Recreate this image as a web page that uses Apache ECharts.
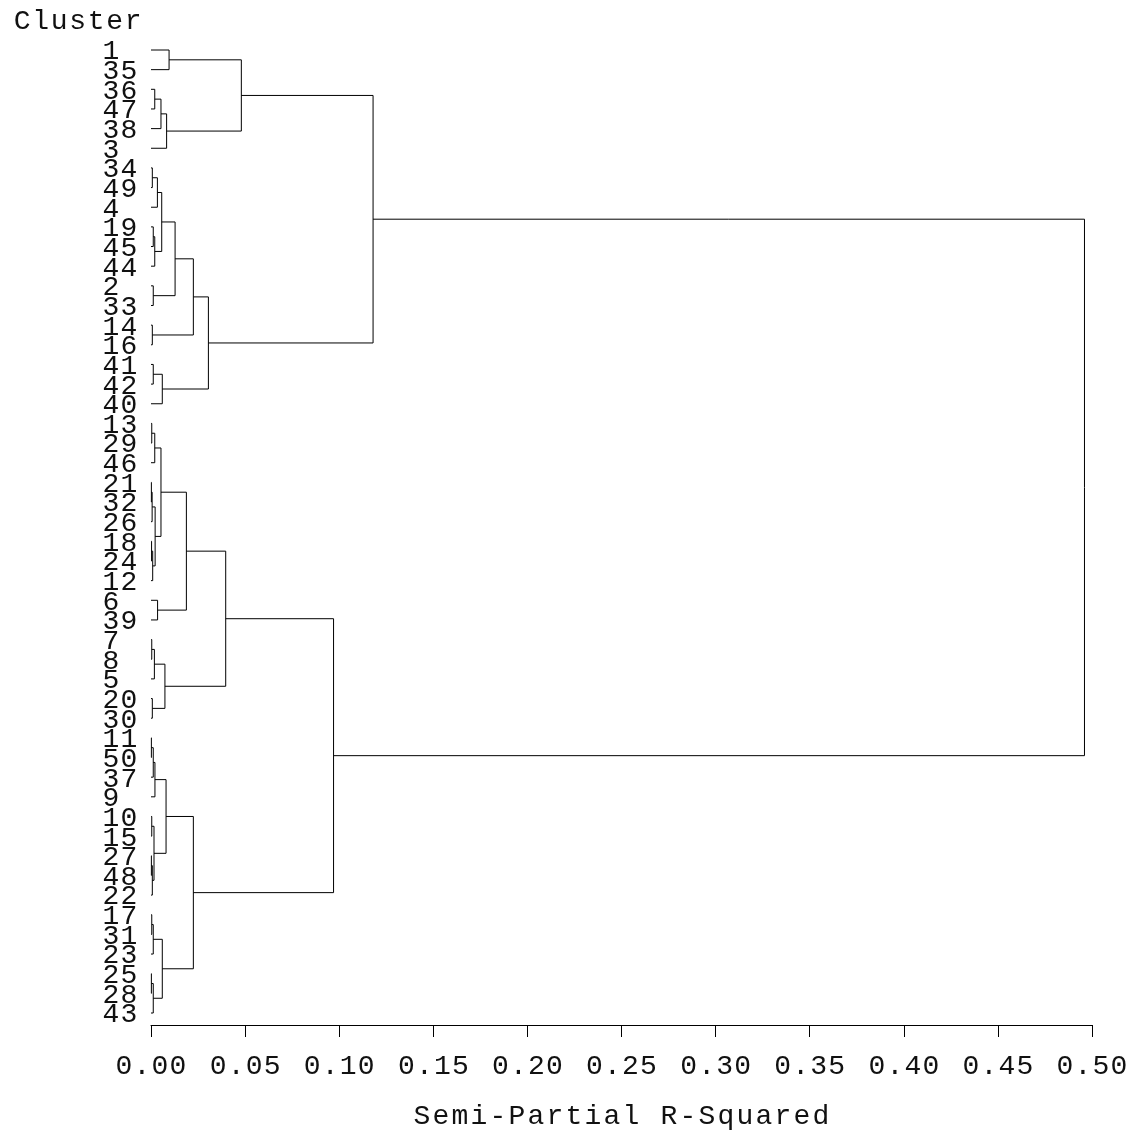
<!DOCTYPE html>
<html>
<head>
<meta charset="utf-8">
<script src="https://cdn.jsdelivr.net/npm/echarts@6/dist/echarts.min.js"></script>
<style>html,body{margin:0;padding:0;background:#fff;}#chart{width:1142px;height:1136px;}</style>
</head>
<body>
<div id="chart"></div>
<script>
// Leaf order, top to bottom
const leaves = ['1','35','36','47','38','3','34','49','4','19','45','44','2','33','14','16','41','42','40',
  '13','29','46','21','32','26','18','24','12','6','39','7','8','5','20','30',
  '11','50','37','9','10','15','27','48','22','17','31','23','25','28','43'];

// Merges: [child A, child B, semi-partial R-squared]; 'mN' refers to merge N
const merges = [
  ['1','35',0.0096],    // m0
  ['36','47',0.0020],   // m1
  ['m1','38',0.0053],   // m2
  ['m2','3',0.0083],    // m3
  ['m0','m3',0.0480],   // m4
  ['34','49',0.0007],   // m5
  ['m5','4',0.0034],    // m6
  ['19','45',0.0012],   // m7
  ['m7','44',0.0020],   // m8
  ['m6','m8',0.0057],   // m9
  ['2','33',0.0012],    // m10
  ['m9','m10',0.0128],  // m11
  ['14','16',0.0007],   // m12
  ['m11','m12',0.0225], // m13
  ['41','42',0.0012],   // m14
  ['m14','40',0.0060],  // m15
  ['m13','m15',0.0305], // m16
  ['m4','m16',0.1180],  // m17
  ['13','29',0.0004],   // m18
  ['m18','46',0.0020],  // m19
  ['21','32',0.0002],   // m20
  ['m20','26',0.0006],  // m21
  ['18','24',0.0003],   // m22
  ['m22','12',0.0009],  // m23
  ['m21','m23',0.0022], // m24
  ['m19','m24',0.0053], // m25
  ['6','39',0.0035],    // m26
  ['m25','m26',0.0188], // m27
  ['7','8',0.0004],     // m28
  ['m28','5',0.0018],   // m29
  ['20','30',0.0007],   // m30
  ['m29','m30',0.0074], // m31
  ['m27','m31',0.0397], // m32
  ['11','50',0.0002],   // m33
  ['m33','37',0.0012],  // m34
  ['m34','9',0.0021],   // m35
  ['10','15',0.0004],   // m36
  ['27','48',0.0002],   // m37
  ['m37','22',0.0007],  // m38
  ['m36','m38',0.0016], // m39
  ['m35','m39',0.0080], // m40
  ['17','31',0.0004],   // m41
  ['m41','23',0.0012],  // m42
  ['25','28',0.0002],   // m43
  ['m43','43',0.0012],  // m44
  ['m42','m44',0.0060], // m45
  ['m40','m45',0.0225], // m46
  ['m32','m46',0.0970], // m47
  ['m17','m47',0.4960]  // m48
];

const xTicks = { min: 0, max: 0.5, interval: 0.05 };
const titleText = 'Cluster';
const xAxisName = 'Semi-Partial R-Squared';

// Build node positions
const nodes = {};
leaves.forEach((l, i) => { nodes[l] = { y: i, h: 0 }; });
const segData = [];
merges.forEach((m, i) => {
  const a = nodes[m[0]], b = nodes[m[1]];
  const top = a.y <= b.y ? a : b, bot = a.y <= b.y ? b : a;
  segData.push([top.h, top.y, m[2], bot.y, bot.h]);
  nodes['m' + i] = { y: (a.y + b.y) / 2, h: m[2] };
});

const FONT = 'Liberation Mono';
const FS = 28;
const INK = '#111';
// each character in a fixed-pitch cell (wide letter spacing like the original)
const spaced = s => s.split('').map(c => '{c|' + c + '}').join('');
const cell = w => ({ c: { width: w, align: 'center', fontFamily: FONT, fontSize: FS, color: INK } });

const chart = echarts.init(document.getElementById('chart'), null, { renderer: 'canvas' });
chart.setOption({
  animation: false,
  backgroundColor: '#fff',
  title: {
    text: spaced(titleText), left: 8, top: 3,
    textStyle: { fontFamily: FONT, fontSize: FS, fontWeight: 'normal', color: INK, rich: cell(18.5) }
  },
  grid: { left: 151, right: 50, top: 50, bottom: 119, containLabel: false },
  xAxis: {
    type: 'value', position: 'bottom', min: xTicks.min, max: xTicks.max, interval: xTicks.interval,
    offset: 12,
    name: spaced(xAxisName), nameLocation: 'middle', nameGap: 78,
    nameTextStyle: { fontFamily: FONT, fontSize: FS, color: INK, rich: cell(19) },
    axisLine: { show: true, onZero: false, lineStyle: { color: '#000', width: 1 } },
    axisTick: { show: true, length: 12, lineStyle: { color: '#000', width: 1 } },
    axisLabel: { fontFamily: FONT, fontSize: FS, color: INK, margin: 28,
      showMinLabel: true, showMaxLabel: true, rich: cell(18),
      formatter: v => spaced(v.toFixed(2)) },
    splitLine: { show: false }
  },
  yAxis: [{
    // leaf labels
    type: 'category', data: leaves, boundaryGap: false, inverse: true,
    axisLine: { show: false }, axisTick: { show: false }, splitLine: { show: false },
    axisLabel: { interval: 0, fontFamily: FONT, fontSize: FS, color: INK, align: 'left', margin: 49,
      padding: [4, 0, 0, 0], rich: cell(18),
      formatter: v => spaced(v) }
  }, {
    // plotting scale: leaf index, same mapping as the category axis
    type: 'value', min: 0, max: leaves.length - 1, inverse: true, show: false,
    splitLine: { show: false }
  }],
  series: [{
    type: 'custom',
    yAxisIndex: 1,
    clip: false,
    data: segData,
    encode: { x: [0, 2, 4], y: [1, 3] },
    renderItem: (params, api) => {
      const p1 = api.coord([api.value(0), api.value(1)]);
      const p2 = api.coord([api.value(2), api.value(1)]);
      const p3 = api.coord([api.value(2), api.value(3)]);
      const p4 = api.coord([api.value(4), api.value(3)]);
      return {
        type: 'polyline',
        shape: { points: [p1, p2, p3, p4] },
        style: { stroke: '#000', lineWidth: 1, fill: null }
      };
    }
  }]
});
</script>
</body>
</html>
